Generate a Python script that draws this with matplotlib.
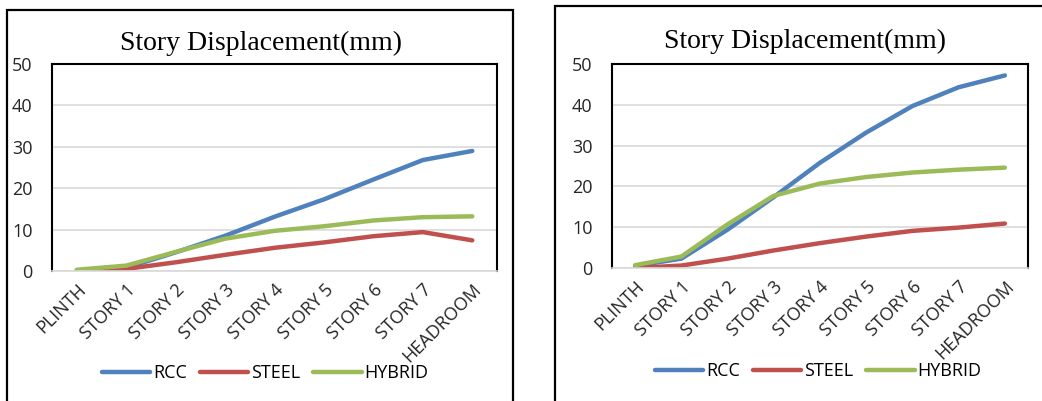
import matplotlib.pyplot as plt
from matplotlib.patches import Rectangle

# story labels and displacement values (mm)
stories = ['PLINTH', 'STORY 1', 'STORY 2', 'STORY 3', 'STORY 4',
           'STORY 5', 'STORY 6', 'STORY 7', 'HEADROOM']

rcc_a = [0.1, 0.8, 4.5, 8.5, 13.1, 17.3, 22.1, 26.8, 29.0]
steel_a = [0.0, 0.5, 2.1, 3.9, 5.6, 6.9, 8.4, 9.4, 7.4]
hybrid_a = [0.3, 1.3, 4.6, 7.8, 9.7, 10.8, 12.2, 13.0, 13.2]

rcc_b = [0.5, 2.3, 9.4, 17.4, 25.8, 33.2, 39.7, 44.3, 47.2]
steel_b = [0.0, 0.6, 2.3, 4.3, 6.1, 7.7, 9.1, 9.9, 10.9]
hybrid_b = [0.7, 2.8, 10.7, 17.7, 20.7, 22.3, 23.4, 24.1, 24.6]

colors = {'RCC': '#4F81BD', 'STEEL': '#C0504D', 'HYBRID': '#9BBB59'}
W, H = 1042, 401

fig = plt.figure(figsize=(W / 100, H / 100), dpi=100)

# outer frames of the two panels
fig.add_artist(Rectangle((7 / W, -0.1), 506 / W, 1 - 10 / H + 0.1, transform=fig.transFigure,
                         fill=False, edgecolor='black', linewidth=1.6))
fig.add_artist(Rectangle((555 / W, -0.1), 520 / W, 1 - 6 / H + 0.1, transform=fig.transFigure,
                         fill=False, edgecolor='black', linewidth=1.6))


def panel(rect, rcc, steel, hybrid, title_x, title_y, leg_x, leg_y):
    ax = fig.add_axes(rect)
    x = range(len(stories))
    ax.plot(x, rcc, color=colors['RCC'], lw=3.2, label='RCC', solid_capstyle='round')
    ax.plot(x, steel, color=colors['STEEL'], lw=3.2, label='STEEL', solid_capstyle='round')
    ax.plot(x, hybrid, color=colors['HYBRID'], lw=3.2, label='HYBRID', solid_capstyle='round')
    ax.set_xlim(-0.5, len(stories) - 0.5)
    ax.set_ylim(0, 50)
    ax.set_yticks([0, 10, 20, 30, 40, 50])
    ax.yaxis.grid(True, color='#D9D9D9', lw=1.2)
    ax.set_axisbelow(True)
    for s in ['left', 'top', 'right']:
        ax.spines[s].set_color('black')
        ax.spines[s].set_linewidth(1.5)
    ax.spines['bottom'].set_color('#D9D9D9')
    ax.spines['bottom'].set_linewidth(1.2)
    ax.set_xticks(list(x))
    ax.set_xticklabels(stories, rotation=45, ha='right', rotation_mode='anchor')
    ax.tick_params(axis='x', length=0, pad=7, labelsize=13, labelcolor='#262626')
    ax.tick_params(axis='y', length=0, pad=14, labelsize=13, labelcolor='#262626')
    for lab in ax.get_xticklabels() + ax.get_yticklabels():
        lab.set_fontfamily('Open Sans')
    fig.text(title_x, title_y, 'Story Displacement(mm)', ha='center', va='baseline',
             family='Liberation Serif', fontsize=20)
    ax.legend(loc='center', bbox_to_anchor=(leg_x, leg_y), bbox_transform=fig.transFigure,
              ncol=3, frameon=False, handlelength=2.7, handletextpad=0.15, columnspacing=0.7,
              prop={'family': 'Open Sans', 'size': 13})
    return ax


panel([52 / W, 1 - 271 / H, 445 / W, 207 / H], rcc_a, steel_a, hybrid_a,
      261 / W, 1 - 50 / H, 265 / W, 1 - 373 / H)
panel([612 / W, 1 - 268 / H, 416 / W, 204 / H], rcc_b, steel_b, hybrid_b,
      805 / W, 1 - 48 / H, 818 / W, 1 - 371 / H)

plt.savefig('out.png', dpi=100)
